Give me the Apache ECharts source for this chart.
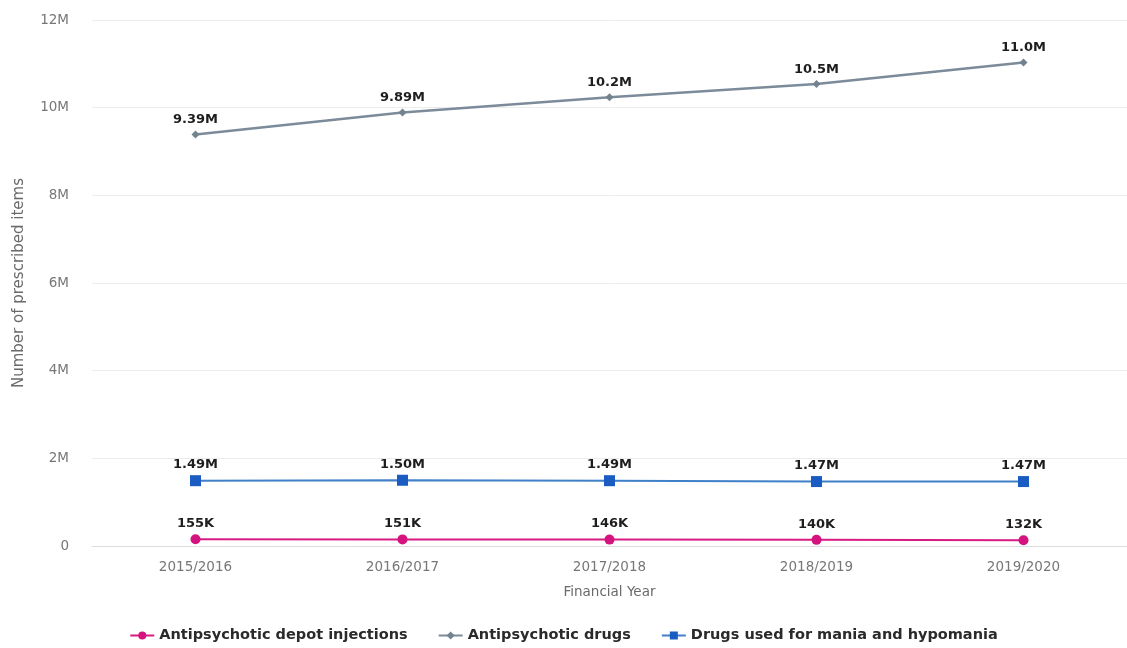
<!DOCTYPE html>
<html>
<head>
<meta charset="utf-8">
<script src="https://cdn.jsdelivr.net/npm/echarts@6/dist/echarts.min.js"></script>
<style>
  html, body { margin: 0; padding: 0; background: #ffffff; }
  #chart { width: 1127px; height: 648px; }
</style>
</head>
<body>
<div id="chart"></div>
<script>
// Financial years on the x axis
const years = ['2015/2016', '2016/2017', '2017/2018', '2018/2019', '2019/2020'];

// Prescribed items per year, by drug group
const depotInjections = [155000, 151000, 146000, 140000, 132000];
const antipsychoticDrugs = [9390000, 9890000, 10240000, 10540000, 11030000];
const maniaDrugs = [1490000, 1500000, 1490000, 1470000, 1470000];

const seriesNames = [
  'Antipsychotic depot injections',
  'Antipsychotic drugs',
  'Drugs used for mania and hypomania'
];

// Value label in K / M with three significant figures
function shortNumber(v) {
  if (v >= 1e6) return (v / 1e6).toPrecision(3) + 'M';
  if (v >= 1e3) return (v / 1e3).toPrecision(3) + 'K';
  return String(v);
}

const FONT = 'DejaVu Sans, Verdana, sans-serif';

const chart = echarts.init(document.getElementById('chart'));

const labelStyle = {
  show: true,
  position: 'top',
  distance: 4,
  color: '#1e1e1e',
  fontWeight: 'bold',
  fontSize: 13,
  fontFamily: FONT,
  formatter: p => shortNumber(p.value)
};

chart.setOption({
  animation: false,
  textStyle: { fontFamily: FONT },
  grid: { left: 92, right: -4, top: 20, bottom: 102 },
  legend: {
    bottom: 0,
    left: 'center',
    itemGap: 30,
    itemWidth: 24,
    itemHeight: 10,
    textStyle: { color: '#2a2a2a', fontWeight: 'bold', fontSize: 14.5, fontFamily: FONT },
    data: seriesNames
  },
  xAxis: {
    type: 'category',
    data: years,
    name: 'Financial Year',
    nameLocation: 'middle',
    nameGap: 39,
    nameTextStyle: { color: '#6a6a6a', fontSize: 13.5, fontFamily: FONT },
    axisLine: { lineStyle: { color: '#dcdcdc' } },
    axisTick: { show: false },
    axisLabel: { color: '#777', fontSize: 13.5, margin: 14, fontFamily: FONT }
  },
  yAxis: {
    type: 'value',
    min: 0,
    max: 12000000,
    interval: 2000000,
    name: 'Number of prescribed items',
    nameLocation: 'middle',
    nameGap: 65,
    nameTextStyle: { color: '#6a6a6a', fontSize: 15, fontFamily: FONT },
    axisLabel: {
      color: '#777',
      fontSize: 13.5,
      margin: 23,
      fontFamily: FONT,
      formatter: v => v === 0 ? '0' : (v / 1e6) + 'M'
    },
    splitLine: { lineStyle: { color: '#ececec' } }
  },
  series: [
    {
      name: seriesNames[0],
      type: 'line',
      data: depotInjections,
      symbol: 'circle',
      symbolSize: 10,
      color: '#d4137f',
      lineStyle: { width: 2, color: '#d81b84' },
      label: labelStyle
    },
    {
      name: seriesNames[1],
      type: 'line',
      data: antipsychoticDrugs,
      symbol: 'diamond',
      symbolSize: 8,
      color: '#72838f',
      lineStyle: { width: 2.5, color: '#7b8b99' },
      label: labelStyle
    },
    {
      name: seriesNames[2],
      type: 'line',
      data: maniaDrugs,
      symbol: 'rect',
      symbolSize: 11,
      color: '#1a5cc2',
      lineStyle: { width: 2, color: '#3f80c8' },
      label: labelStyle
    }
  ]
});
</script>
</body>
</html>
